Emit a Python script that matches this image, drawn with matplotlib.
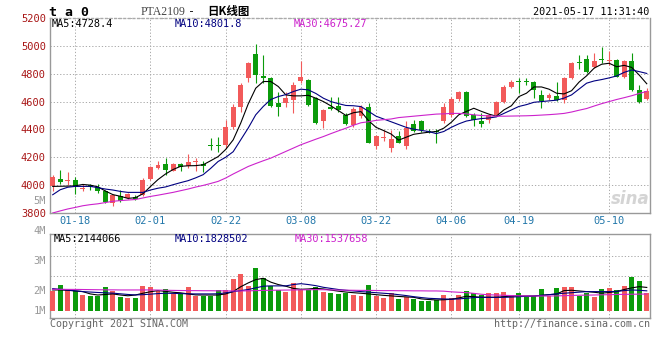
import matplotlib
matplotlib.use("Agg")
import matplotlib.pyplot as plt
import numpy as np

W, H = 660, 360

# trading days shown (Jan 13 .. May 17, 2021)
dates = [
    "01-13", "01-14", "01-15", "01-18", "01-19", "01-20", "01-21", "01-22",
    "01-25", "01-26", "01-27", "01-28", "01-29", "02-01", "02-02", "02-03",
    "02-04", "02-05", "02-08", "02-09", "02-10", "02-18", "02-19", "02-22",
    "02-23", "02-24", "02-25", "02-26", "03-01", "03-02", "03-03", "03-04",
    "03-05", "03-08", "03-09", "03-10", "03-11", "03-12", "03-15", "03-16",
    "03-17", "03-18", "03-19", "03-22", "03-23", "03-24", "03-25", "03-26",
    "03-29", "03-30", "03-31", "04-01", "04-02", "04-06", "04-07", "04-08",
    "04-09", "04-12", "04-13", "04-14", "04-15", "04-16", "04-19", "04-20",
    "04-21", "04-22", "04-23", "04-26", "04-27", "04-28", "04-29", "04-30",
    "05-06", "05-07", "05-10", "05-11", "05-12", "05-13", "05-14", "05-17",
]

opens = [
    3991, 4046, 4030, 4040, 3970, 3998, 3990, 3960, 3872, 3920,
    3907, 3918, 3931, 4046, 4125, 4150, 4105, 4150, 4140, 4165,
    4150, 4288, 4288, 4285, 4421, 4560, 4767, 4940, 4785, 4767,
    4593, 4590, 4612, 4745, 4756, 4624, 4464, 4558, 4568, 4505,
    4435, 4497, 4562, 4282, 4340, 4266, 4354, 4282, 4440, 4457,
    4392, 4390, 4457, 4505, 4617, 4667, 4505, 4464, 4469, 4505,
    4600, 4703, 4746, 4748, 4739, 4648, 4624, 4643, 4612, 4767,
    4884, 4906, 4846, 4906, 4892, 4899, 4780, 4892, 4684, 4617,
]
highs = [
    4070, 4110, 4095, 4060, 4005, 4010, 4005, 3965, 3935, 3965,
    3945, 3930, 4048, 4135, 4170, 4195, 4158, 4160, 4225, 4195,
    4175, 4340, 4345, 4465, 4585, 4736, 4887, 5012, 4935, 4775,
    4672, 4670, 4737, 4894, 4760, 4635, 4545, 4636, 4636, 4515,
    4560, 4575, 4590, 4362, 4397, 4395, 4392, 4457, 4469, 4470,
    4402, 4400, 4593, 4636, 4679, 4679, 4521, 4521, 4512, 4605,
    4720, 4755, 4767, 4772, 4751, 4684, 4660, 4744, 4779, 4887,
    4935, 4935, 4951, 4994, 4963, 4905, 4896, 4951, 4720, 4696,
]
lows = [
    3960, 4010, 4000, 3940, 3955, 3965, 3945, 3875, 3847, 3880,
    3900, 3895, 3925, 4035, 4115, 4075, 4098, 4100, 4120, 4105,
    4095, 4255, 4240, 4265, 4400, 4528, 4743, 4730, 4735, 4560,
    4497, 4560, 4520, 4732, 4570, 4440, 4410, 4540, 4528, 4435,
    4420, 4480, 4300, 4262, 4315, 4235, 4300, 4258, 4380, 4385,
    4373, 4301, 4445, 4488, 4607, 4488, 4426, 4421, 4445, 4495,
    4588, 4696, 4660, 4720, 4624, 4552, 4612, 4605, 4588, 4763,
    4832, 4803, 4839, 4875, 4863, 4775, 4772, 4679, 4593, 4612,
]
closes = [
    4058, 4022, 4040, 3985, 3978, 3990, 3960, 3882, 3926, 3885,
    3938, 3902, 4040, 4128, 4148, 4106, 4152, 4128, 4165, 4172,
    4138, 4282, 4283, 4420, 4560, 4720, 4880, 4792, 4768, 4570,
    4560, 4625, 4720, 4775, 4576, 4445, 4540, 4546, 4541, 4440,
    4545, 4560, 4302, 4354, 4346, 4333, 4306, 4409, 4392, 4393,
    4380, 4380, 4564, 4619, 4667, 4493, 4469, 4440, 4505, 4595,
    4708, 4744, 4740, 4742, 4684, 4607, 4648, 4612, 4772, 4880,
    4880, 4815, 4892, 4902, 4897, 4780, 4890, 4680, 4600, 4679,
]

ma5 = [
    3991, 3992, 3993, 3995, 4005, 4000, 3988, 3958, 3932, 3920,
    3905, 3910, 3938, 3990, 4040, 4080, 4112, 4135, 4139, 4140,
    4146, 4175, 4205, 4256, 4325, 4445, 4583, 4696, 4744, 4744,
    4708, 4648, 4641, 4641, 4645, 4624, 4600, 4569, 4535, 4500,
    4520, 4528, 4463, 4415, 4392, 4367, 4323, 4344, 4365, 4373,
    4380, 4385, 4409, 4451, 4505, 4529, 4552, 4530, 4510, 4495,
    4540, 4570, 4636, 4660, 4705, 4705, 4689, 4660, 4655, 4678,
    4740, 4785, 4840, 4868, 4875, 4850, 4860, 4845, 4790, 4728,
]
ma10 = [
    3931, 3967, 3985, 3991, 3991, 3991, 3982, 3972, 3965, 3955,
    3948, 3948, 3948, 3965, 3978, 3987, 4003, 4018, 4032, 4052,
    4075, 4120, 4170, 4200, 4240, 4325, 4410, 4505, 4565, 4615,
    4636, 4650, 4672, 4689, 4684, 4658, 4624, 4600, 4585, 4572,
    4570, 4564, 4530, 4495, 4475, 4455, 4435, 4415, 4402, 4393,
    4385, 4370, 4385, 4415, 4440, 4460, 4470, 4478, 4482, 4490,
    4515, 4540, 4565, 4578, 4595, 4600, 4605, 4610, 4625, 4648,
    4690, 4732, 4748, 4758, 4770, 4784, 4810, 4827, 4815, 4802,
]
ma30 = [
    3800, 3815, 3829, 3840, 3852, 3860, 3866, 3875, 3884, 3889,
    3893, 3897, 3908, 3919, 3928, 3938, 3948, 3960, 3972, 3986,
    3998, 4012, 4027, 4051, 4080, 4107, 4134, 4155, 4175, 4194,
    4218, 4242, 4266, 4290, 4310, 4330, 4349, 4370, 4390, 4409,
    4430, 4448, 4455, 4465, 4470, 4475, 4485, 4490, 4495, 4500,
    4505, 4510, 4512, 4515, 4515, 4512, 4505, 4500, 4497, 4495,
    4495, 4496, 4497, 4498, 4500, 4503, 4506, 4510, 4515, 4525,
    4538, 4550, 4568, 4585, 4600, 4615, 4628, 4642, 4658, 4673,
]

# volume in millions
volume = [
    1.85, 2.36, 1.95, 1.80, 1.45, 1.36, 1.40, 2.15, 1.85, 1.30,
    1.21, 1.21, 2.27, 2.15, 1.80, 1.97, 1.51, 1.54, 2.15, 1.36,
    1.36, 1.36, 1.91, 1.91, 2.91, 3.36, 2.27, 3.88, 2.97, 2.30,
    1.91, 1.76, 2.51, 1.91, 1.91, 2.15, 1.76, 1.67, 1.54, 1.61,
    1.45, 1.36, 2.36, 1.36, 1.21, 1.67, 1.09, 1.30, 1.06, 0.94,
    0.94, 1.00, 1.45, 1.15, 1.45, 1.82, 1.61, 1.45, 1.61, 1.61,
    1.76, 1.45, 1.67, 1.30, 1.36, 1.97, 1.36, 2.09, 2.18, 2.18,
    1.36, 1.67, 1.30, 1.97, 2.09, 1.91, 2.27, 3.12, 2.76, 1.67,
]
vol_ma5 = [
    1.91, 1.91, 1.88, 1.82, 1.76, 1.55, 1.45, 1.50, 1.55, 1.45,
    1.38, 1.45, 1.61, 1.75, 1.85, 1.78, 1.70, 1.65, 1.55, 1.46,
    1.45, 1.45, 1.45, 1.55, 1.76, 2.20, 2.55, 2.85, 2.97, 2.62,
    2.40, 2.25, 2.05, 1.97, 2.00, 2.06, 2.00, 1.90, 1.80, 1.72,
    1.66, 1.61, 1.55, 1.48, 1.42, 1.37, 1.32, 1.28, 1.24, 1.10,
    1.04, 1.00, 1.02, 1.06, 1.18, 1.34, 1.30, 1.24, 1.24, 1.24,
    1.30, 1.35, 1.36, 1.36, 1.36, 1.42, 1.48, 1.54, 1.85, 1.88,
    1.82, 1.76, 1.70, 1.62, 1.68, 1.76, 1.95, 2.10, 2.21, 2.14,
]
vol_ma10 = [
    2.03, 1.97, 1.90, 1.83, 1.76, 1.72, 1.68, 1.65, 1.62, 1.56,
    1.50, 1.46, 1.48, 1.53, 1.58, 1.61, 1.60, 1.58, 1.56, 1.55,
    1.55, 1.55, 1.56, 1.65, 1.76, 1.85, 1.95, 2.10, 2.25, 2.28,
    2.28, 2.28, 2.40, 2.48, 2.40, 2.30, 2.15, 2.05, 1.95, 1.88,
    1.82, 1.76, 1.71, 1.66, 1.61, 1.56, 1.48, 1.40, 1.30, 1.22,
    1.15, 1.12, 1.09, 1.07, 1.10, 1.15, 1.22, 1.24, 1.24, 1.24,
    1.24, 1.26, 1.30, 1.33, 1.36, 1.42, 1.48, 1.55, 1.61, 1.66,
    1.71, 1.76, 1.76, 1.76, 1.76, 1.78, 1.85, 1.91, 1.88, 1.83,
]
vol_ma30 = [
    1.97, 1.97, 1.96, 1.96, 1.95, 1.94, 1.93, 1.92, 1.92, 1.91,
    1.91, 1.91, 1.91, 1.91, 1.90, 1.88, 1.87, 1.86, 1.85, 1.85,
    1.84, 1.84, 1.83, 1.83, 1.82, 1.82, 1.83, 1.85, 1.87, 1.88,
    1.89, 1.90, 1.91, 1.92, 1.93, 1.94, 1.93, 1.91, 1.90, 1.89,
    1.88, 1.87, 1.87, 1.86, 1.85, 1.85, 1.84, 1.84, 1.83, 1.83,
    1.82, 1.82, 1.80, 1.74, 1.70, 1.67, 1.60, 1.52, 1.47, 1.45,
    1.42, 1.40, 1.38, 1.37, 1.36, 1.36, 1.36, 1.37, 1.39, 1.41,
    1.43, 1.44, 1.45, 1.47, 1.48, 1.50, 1.51, 1.52, 1.53, 1.54,
]

tick_dates = ["01-18", "02-01", "02-22", "03-08", "03-22", "04-06", "04-19", "05-10"]
price_ticks = [3800, 4000, 4200, 4400, 4600, 4800, 5000, 5200]
vol_tick_labels = ["5M", "4M", "3M", "2M", "1M"]
price_legend = ["MA5:4728.4", "MA10:4801.8", "MA30:4675.27"]
vol_legend = ["MA5:2144066", "MA10:1828502", "MA30:1537658"]

RED = "#f25a5a"
GREEN = "#0b9b0b"
MA_COLORS = ["#000000", "#000080", "#cc22cc"]
GRID = "#aaaaaa"
BORDER = "#999999"
MONO = "DejaVu Sans Mono"


def fx(px):
    return px / W


def fy(py):
    return 1 - py / H


x = np.arange(len(dates))
o = np.array(opens)
c = np.array(closes)
up = c >= o
colors = np.where(up, RED, GREEN)
tick_pos = [dates.index(d) for d in tick_dates]

fig = plt.figure(figsize=(W / 100, H / 100), dpi=100)
fig.patch.set_facecolor("white")

ax = fig.add_axes([fx(50), fy(213), 600 / W, (213 - 18) / H])
axv = fig.add_axes([fx(50), fy(318), 600 / W, (318 - 234.3) / H])

xlim = (-0.36, 79.43)

# --- price panel ---
body_bottom = np.minimum(o, c)
body_height = np.maximum(np.abs(c - o), 7)
ax.vlines(x, lows, highs, colors=colors, linewidth=0.8, zorder=3)
ax.bar(x, body_height, bottom=body_bottom, width=0.66, color=colors,
       linewidth=0, zorder=4)
for series, col in zip([ma5, ma10, ma30], MA_COLORS):
    ax.plot(x, series, color=col, linewidth=0.8, zorder=5)

ax.set_xlim(*xlim)
ax.set_ylim(3800, 5200)
ax.set_yticks(price_ticks)
ax.set_xticks(tick_pos)
ax.set_xticklabels(tick_dates)
ax.tick_params(axis="y", length=0, pad=3, labelsize=7.5, labelcolor="#a81515")
ax.tick_params(axis="x", length=0, pad=2.5, labelsize=7.5, labelcolor="#2277aa")
for lab in ax.get_xticklabels() + ax.get_yticklabels():
    lab.set_family(MONO)
ax.grid(True, color=GRID, linestyle=(0, (1.3, 2)), linewidth=0.7)
ax.set_axisbelow(True)
for name, sp in ax.spines.items():
    sp.set_color(BORDER)
    sp.set_linewidth(1)
ax.spines["top"].set_linestyle((0, (1.3, 2)))
ax.spines["top"].set_color(GRID)

# --- volume panel ---
axv.bar(x, volume, width=0.66, color=colors, linewidth=0, zorder=3)
for series, col in zip([vol_ma5, vol_ma10, vol_ma30], MA_COLORS):
    axv.plot(x, series, color=col, linewidth=0.8, zorder=4)
axv.set_xlim(*xlim)
axv.set_ylim(-0.64, 6.97)
axv.set_xticks(tick_pos)
axv.set_yticks([3.21, 5.03])
axv.tick_params(length=0, labelbottom=False, labelleft=False)
axv.grid(True, color=GRID, linestyle=(0, (1.3, 2)), linewidth=0.7)
axv.set_axisbelow(True)
for sp in axv.spines.values():
    sp.set_color(BORDER)
    sp.set_linewidth(1)

# --- texts ---
fig.text(fx(49), fy(12), "t a 0", family=MONO, weight="bold", size=9.5,
         va="center", ha="left")
fig.text(fx(141), fy(12), "PTA2109", family="Liberation Serif", size=8.5,
         color="#444444", va="center", ha="left")
fig.text(fx(188), fy(12), "-", family=MONO, size=8.5, color="#222222",
         va="center", ha="left")
fig.text(fx(207), fy(12), "日K线图", family=["Noto Sans CJK SC", "DejaVu Sans"],
         weight="bold", size=8.3, va="center", ha="left")
fig.text(fx(649), fy(12), "2021-05-17 11:31:40", family=MONO, size=7.3,
         va="center", ha="right")

for txt, col, px in zip(price_legend, MA_COLORS, [52, 175, 294]):
    fig.text(fx(px), fy(24), txt, family=MONO, size=7.4, color=col,
             va="center", ha="left")
for txt, col, px in zip(vol_legend, MA_COLORS, [54, 175, 295]):
    fig.text(fx(px), fy(239), txt, family=MONO, size=7.4, color=col,
             va="center", ha="left")

for txt, py in zip(vol_tick_labels, [200.5, 231, 261, 291, 311]):
    fig.text(fx(46), fy(py), txt, family=MONO, size=7.5, color="#999999",
             va="center", ha="right")

fig.text(fx(50), fy(324), "Copyright 2021 SINA.COM", family=MONO, size=7.2,
         color="#666666", va="center", ha="left")
fig.text(fx(650), fy(324), "http://finance.sina.com.cn", family=MONO, size=7.2,
         color="#666666", va="center", ha="right")

# faint watermark
fig.text(fx(650), fy(199), "sina", family="DejaVu Sans", style="italic",
         weight="bold", size=12, color="#d4d4d4", va="center", ha="right")

fig.savefig("out.png", dpi=100, facecolor="white")
